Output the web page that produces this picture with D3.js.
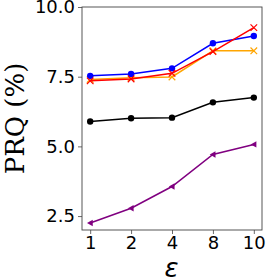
<!DOCTYPE html>
<html><head><meta charset="utf-8">
<script src="https://cdn.jsdelivr.net/npm/d3@7"></script>
<style>body{margin:0;background:#fff}svg{display:block}</style>
</head><body>
<svg id="c" width="266" height="280"></svg>
<script>
const categories = ["1","2","4","8","10"];
const blueVals   = [7.53, 7.60, 7.80, 8.70, 8.96];
const redVals    = [7.35, 7.42, 7.62, 8.40, 9.26];
const orangeVals = [7.40, 7.46, 7.49, 8.43, 8.43];
const blackVals  = [5.89, 6.01, 6.03, 6.58, 6.75];
const purpleVals = [2.25, 2.78, 3.56, 4.71, 5.07];
const yTicks = [2.5, 5.0, 7.5, 10.0];

const series = [
  {vals: blackVals,  color: "black",   marker: "circle"},
  {vals: purpleVals, color: "purple",  marker: "tri"},
  {vals: orangeVals, color: "orange",  marker: "x"},
  {vals: blueVals,   color: "blue",    marker: "circle"},
  {vals: redVals,    color: "red",     marker: "x"}
];

const L = 82, R = 262, T = 7, B = 230;
const svg = d3.select("#c");
const x = d3.scalePoint().domain(categories).range([L, R]).padding(0.2);
const y = d3.scaleLinear().domain([2, 10]).range([B, T]);

const spine = "#444";
const yAxis = svg.append("g").attr("transform", `translate(${L},0)`)
  .call(d3.axisLeft(y).tickValues(yTicks).tickFormat(d3.format(".1f")).tickSize(4).tickPadding(3));
const xAxis = svg.append("g").attr("transform", `translate(0,${B})`)
  .call(d3.axisBottom(x).tickSize(4).tickPadding(2));
[yAxis, xAxis].forEach(g => {
  g.select(".domain").remove();
  g.selectAll("line").attr("stroke", spine).attr("stroke-width", 0.8);
  g.selectAll("text").attr("fill", "#000").style("font-family", "DejaVu Sans").style("font-size", "18px");
});
svg.append("rect").attr("x", L).attr("y", T).attr("width", R - L).attr("height", B - T)
  .attr("fill", "none").attr("stroke", spine).attr("stroke-width", 0.9);

const line = d3.line().x((d, i) => x(categories[i])).y(d => y(d));
series.forEach(s => {
  const g = svg.append("g");
  g.append("path").datum(s.vals).attr("d", line).attr("fill", "none")
    .attr("stroke", s.color).attr("stroke-width", 1.5);
  s.vals.forEach((v, i) => {
    const cx = x(categories[i]), cy = y(v);
    if (s.marker === "circle") {
      g.append("circle").attr("cx", cx).attr("cy", cy).attr("r", 3.2).attr("fill", s.color);
    } else if (s.marker === "x") {
      const r = 3.3;
      g.append("path").attr("d", `M${cx-r},${cy-r}L${cx+r},${cy+r}M${cx-r},${cy+r}L${cx+r},${cy-r}`)
        .attr("stroke", s.color).attr("stroke-width", 1.2).attr("fill", "none");
    } else {
      const r = 3.2;
      g.append("path").attr("d", `M${cx-r},${cy}L${cx+r*0.8},${cy-r}L${cx+r*0.8},${cy+r}Z`).attr("fill", s.color);
    }
  });
});

svg.append("text").attr("transform", `translate(24,${(T+B)/2}) rotate(-90)`)
  .attr("text-anchor", "middle").style("font-family", "DejaVu Serif").style("font-size", "26px")
  .text("PRQ (%)");
svg.append("text").attr("x", 171.5).attr("y", 277).attr("text-anchor", "middle")
  .style("font-family", "DejaVu Sans").style("font-style", "italic").style("font-size", "26px")
  .text("ε");
</script>
</body></html>
